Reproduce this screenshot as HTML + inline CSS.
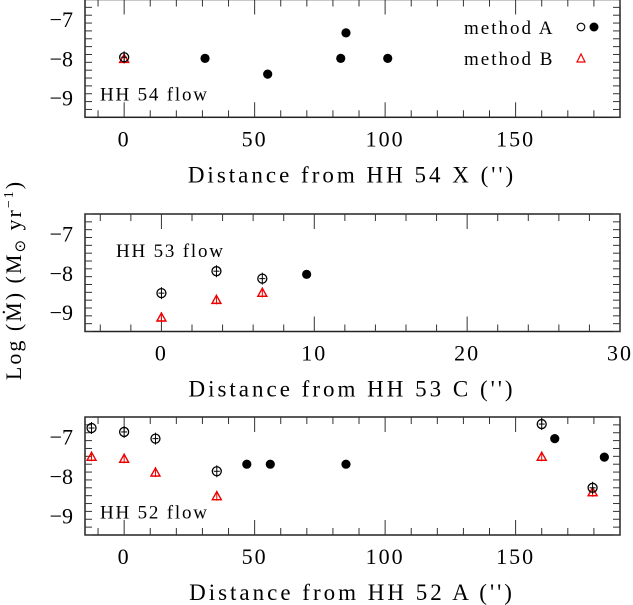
<!DOCTYPE html>
<html><head><meta charset="utf-8"><style>
body{margin:0;background:#fff}
svg{display:block;font-family:"Liberation Serif",serif}
</style></head><body>
<svg id="c" width="633" height="605" viewBox="0 0 633 605"></svg>
<script>
const panelNames=['hh54','hh53','hh52'];
const xMins=[-15,-5,-15];
const xMaxs=[190,30,190];
const xTickVals=[[0,50,100,150],[0,10,20,30],[0,50,100,150]];
const xMinorSteps=[10,2,10];
const xTitles=["Distance from HH 54 X ('')","Distance from HH 53 C ('')","Distance from HH 52 A ('')"];
const flowLabels=['HH 54 flow','HH 53 flow','HH 52 flow'];
const yTickVals=[-7,-8,-9];
// HH 54
const p0OpenX=[0], p0OpenY=[-7.97];
const p0FillX=[31,55,83,85,101], p0FillY=[-8.0,-8.4,-8.0,-7.35,-8.0];
const p0BX=[0], p0BY=[-8.0];
// HH 53
const p1OpenX=[0,3.6,6.6], p1OpenY=[-8.52,-7.96,-8.15];
const p1FillX=[9.5], p1FillY=[-8.04];
const p1BX=[0,3.6,6.6], p1BY=[-9.13,-8.68,-8.5];
// HH 52
const p2OpenX=[-12.5,0,12,35.5,160,179.5], p2OpenY=[-6.78,-6.88,-7.05,-7.88,-6.68,-8.3];
const p2FillX=[47,56,85,165,184], p2FillY=[-7.7,-7.7,-7.7,-7.05,-7.52];
const p2BX=[-12.5,0,12,35.5,160,179.5], p2BY=[-7.5,-7.55,-7.9,-8.5,-7.5,-8.4];

const openX=[p0OpenX,p1OpenX,p2OpenX], openY=[p0OpenY,p1OpenY,p2OpenY];
const fillX=[p0FillX,p1FillX,p2FillX], fillY=[p0FillY,p1FillY,p2FillY];
const bX=[p0BX,p1BX,p2BX], bY=[p0BY,p1BY,p2BY];

const svg=document.getElementById('c');
const NS='http://www.w3.org/2000/svg';
function mk(tag,attrs,parent){const e=document.createElementNS(NS,tag);for(const k in attrs)e.setAttribute(k,attrs[k]);(parent||svg).appendChild(e);return e;}
const L=85,R=620;
const tops=[-0.5,214,417], bots=[117.3,331.5,535];
const yMin=-9.5,yMax=-6.5;
for(let p=0;p<3;p++){
  const g=mk('g',{});
  
  
  const T=tops[p],B=bots[p];
  const sx=v=>L+(v-xMins[p])/(xMaxs[p]-xMins[p])*(R-L);
  const sy=v=>B-(v-yMin)/(yMax-yMin)*(B-T);
  const fr=mk('rect',{x:L,y:T,width:R-L,height:B-T,fill:'none',stroke:'#222','stroke-width':1.5},g);
  
  
  const st=xMinorSteps[p];
  for(let v=Math.ceil(xMins[p]/st)*st;v<=xMaxs[p]+1e-9;v+=st){
    const maj=xTickVals[p].some(t=>Math.abs(t-v)<1e-9);
    const len=maj?15:7,x=sx(v);
    mk('line',{x1:x,x2:x,y1:B,y2:B-len,stroke:'#333','stroke-width':1},g);
    mk('line',{x1:x,x2:x,y1:T,y2:T+len,stroke:'#333','stroke-width':1},g);
  }
  for(const v of xTickVals[p]){
    const t=mk('text',{x:sx(v),y:B+29,'text-anchor':'middle','font-size':22,'letter-spacing':2},g);
    t.textContent=v;
    
    
  }
  const xt=mk('text',{x:352,y:B+65,'text-anchor':'middle','font-size':23,'letter-spacing':3},g);
  xt.textContent=xTitles[p];
  
  
  for(let i=0;i<=15;i++){
    const v=yMin+i*0.2;const y=sy(v);
    const maj=Math.abs(v-Math.round(v))<1e-6;const len=maj?15:7;
    mk('line',{x1:L,x2:L+len,y1:y,y2:y,stroke:'#333','stroke-width':1},g);
    mk('line',{x1:R,x2:R-len,y1:y,y2:y,stroke:'#333','stroke-width':1},g);
  }
  for(const v of yTickVals){
    const t=mk('text',{x:73,y:sy(v)+8,'text-anchor':'end','font-size':22},g);
    t.textContent='\u2212'+Math.abs(v);
    
    
  }
  const fl=mk('text',{x:p===1?116:100,y:p===1?257:sy(-9)+3,'font-size':19,'letter-spacing':1.8},g);
  fl.textContent=flowLabels[p];
  
  
  for(let i=0;i<bX[p].length;i++){
    const x=sx(bX[p][i]),y=sy(bY[p][i]);
    mk('line',{x1:x,x2:x,y1:y-5,y2:y+5,stroke:'#e00','stroke-width':1},g);
    mk('line',{x1:x-4,x2:x+4,y1:y+4,y2:y+4,stroke:'#e00','stroke-width':1.2},g);
    const tr=mk('polygon',{points:`${x},${y-4} ${x-4.5},${y+4} ${x+4.5},${y+4}`,fill:'none',stroke:'#e00','stroke-width':1.4},g);
    
    
  }
  for(let i=0;i<openX[p].length;i++){
    const x=sx(openX[p][i]),y=sy(openY[p][i]);
    mk('line',{x1:x,x2:x,y1:y-6,y2:y+6,stroke:'#000','stroke-width':1},g);
    mk('line',{x1:x-3,x2:x+3,y1:y,y2:y,stroke:'#000','stroke-width':1},g);
    const c=mk('circle',{cx:x,cy:y,r:4.5,fill:'none',stroke:'#000','stroke-width':1.3},g);
    
    
  }
  for(let i=0;i<fillX[p].length;i++){
    const c=mk('circle',{cx:sx(fillX[p][i]),cy:sy(fillY[p][i]),r:4.6,fill:'#000'},g);
    
    
  }
  if(p===0){
    const lg=mk('g',{},g);
    
    
    const a=mk('text',{x:464,y:34,'font-size':19,'letter-spacing':2},lg);a.textContent='method A';
    
    mk('circle',{cx:581,cy:27,r:3.8,fill:'none',stroke:'#000','stroke-width':1.1},lg);
    mk('circle',{cx:594,cy:27,r:4.5,fill:'#000'},lg);
    const b=mk('text',{x:464,y:65,'font-size':19,'letter-spacing':2},lg);b.textContent='method B';
    
    mk('polygon',{points:'581,54 577,62 585,62',fill:'none',stroke:'#e00','stroke-width':1.2},lg);
  }
}
const yl=mk('text',{x:0,y:0,'font-size':22,'text-anchor':'middle','letter-spacing':2,transform:'translate(21,280) rotate(-90)'});


yl.innerHTML='Log  (M\u0307)  (M<tspan font-size="15" dy="4">\u2299</tspan><tspan dy="-4"> yr</tspan><tspan font-size="14" dy="-8">\u22121</tspan><tspan dy="8">)</tspan>';
</script>
</body></html>
